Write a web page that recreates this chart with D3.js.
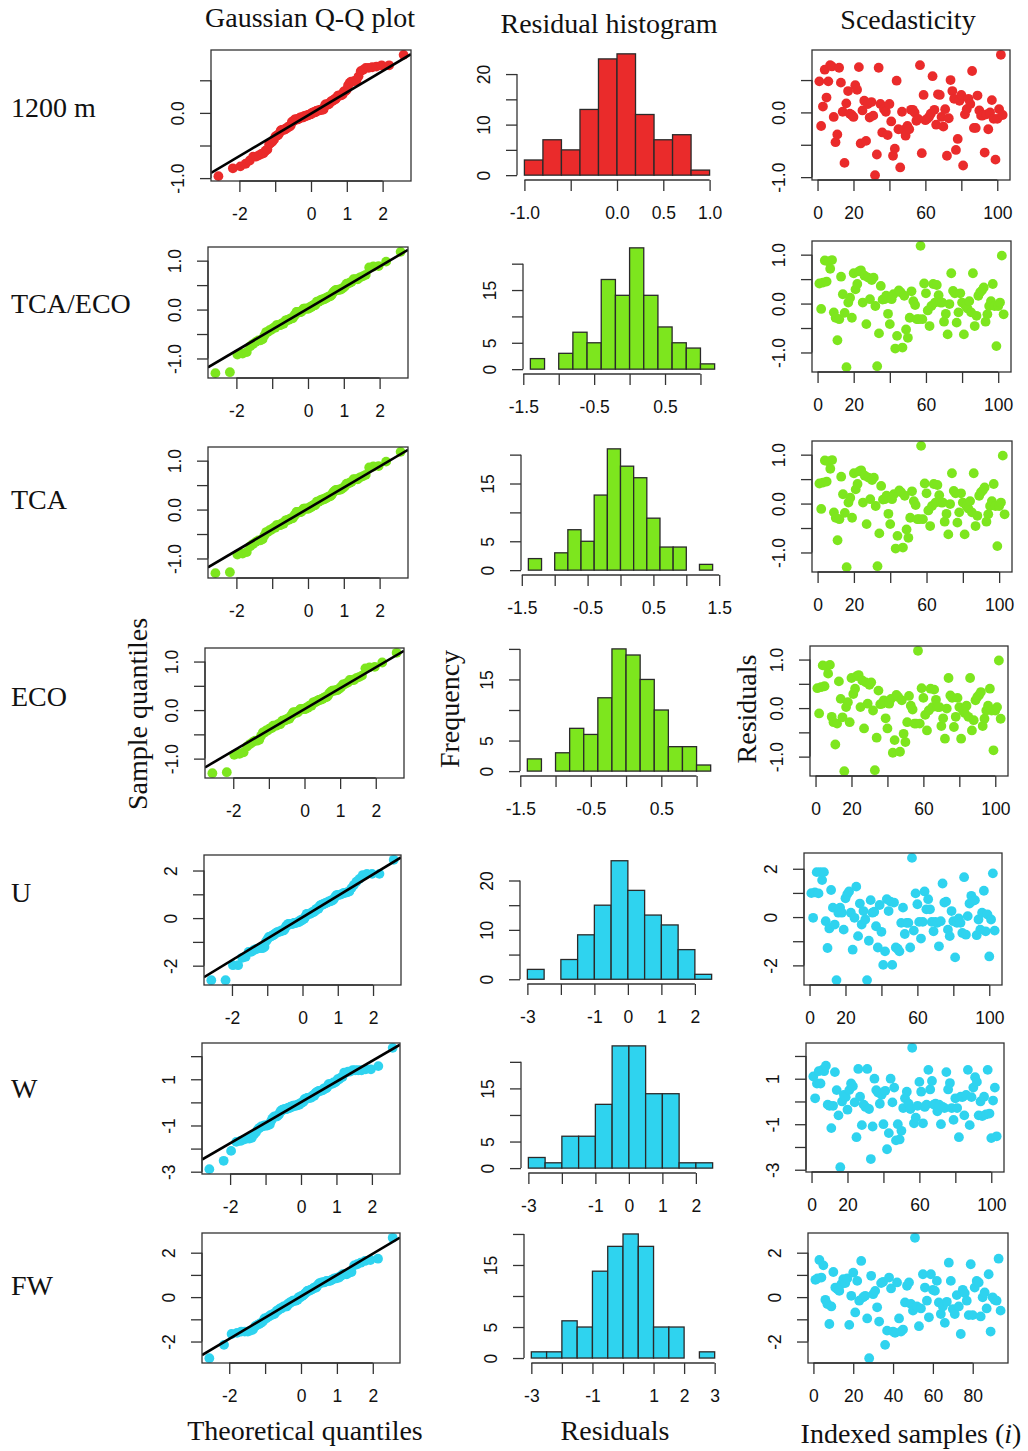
<!DOCTYPE html>
<html>
<head>
<meta charset="utf-8">
<script src="https://cdn.jsdelivr.net/npm/d3@7"></script>
<style>
  body { margin: 0; background: #fff; }
  svg { display: block; }
  .tick text { font-family: "Liberation Sans", Arial, sans-serif; font-size: 17.5px; fill: #111; }
  .serif { font-family: "Liberation Serif", "Times New Roman", serif; font-size: 28px; fill: #111; }
</style>
</head>
<body>
<script>
// ---- data ----
const rowLabels = ["1200 m", "TCA/ECO", "TCA", "ECO", "U", "W", "FW"];

// residuals in sample order (scedasticity panels); Q-Q panels use the same values sorted
const res1200 = [0.48,-0.21,0.09,0.66,0.23,0.48,0.73,0.71,-0.07,-0.46,-0.34,0.69,0.46,0.01,-0.78,0.14,0.33,-0.02,-0.04,-0.07,
  0.42,0.35,0.70,-0.48,0.03,0.18,-0.44,0.13,-0.08,0.16,-0.05,-0.97,-0.65,0.69,0.13,-0.31,0.05,0.01,-0.35,0.13,
  -0.14,-0.67,-0.56,0.49,-0.26,-0.85,0.01,-0.27,-0.36,-0.21,-0.26,0.04,0.04,0.0,-0.13,-0.10,0.73,-0.63,0.27,-0.12,
  -0.10,-0.07,-0.02,0.56,0.04,-0.19,0.28,0.27,-0.07,-0.22,0.05,-0.67,-0.09,0.50,0.33,0.21,-0.58,-0.41,0.18,0.27,
  -0.82,-0.03,0.05,0.21,0.13,0.64,-0.24,-0.24,0.26,0.03,-0.05,-0.05,-0.62,-0.03,-0.26,0.0,0.19,-0.10,-0.73,-0.10,
  0.05,0.89,-0.04];
const resEco = [0.41,-0.11,0.43,0.88,0.45,0.86,0.71,0.89,-0.18,-0.29,-0.75,-0.32,0.55,0.19,-0.19,-1.30,0.02,0.12,-0.29,0.62,
  0.29,0.40,0.66,0.68,0.02,0.57,-0.42,0.53,0.09,0.48,0.53,-0.05,-1.28,-0.61,0.36,0.08,0.09,0.16,-0.21,-0.42,
  0.09,0.19,-0.92,-0.66,0.27,0.23,-0.90,0.16,-0.53,-0.70,-0.29,0.25,0.05,-0.03,-0.32,-0.32,1.18,-0.32,0.41,0.21,
  -0.14,-0.46,-0.05,0.40,0.02,0.38,0.17,0.02,0.02,-0.37,-0.21,-0.63,-0.01,0.62,0.26,0.21,-0.39,-0.18,0.21,0.02,
  -0.63,-0.05,-0.10,0.05,-0.18,0.62,-0.46,-0.25,0.16,0.23,0.27,0.33,-0.37,-0.22,-0.05,0.05,0.40,-0.05,-0.87,-0.05,
  0.02,0.98,-0.22];
const resU = [0.99,-0.03,1.02,1.86,0.98,1.86,1.53,1.86,-0.17,-1.28,-0.47,1.12,0.39,-0.31,-2.61,0.18,0.39,0.18,-0.52,0.78,
  0.95,1.06,0.18,-1.35,-0.03,1.26,-0.79,0.56,-0.31,0.25,-0.10,-2.61,-0.98,0.70,0.18,0.22,-0.38,-1.26,0.50,-0.61,
  -1.98,-1.42,0.74,0.25,0.64,-1.98,0.60,-1.26,-1.31,-1.42,-0.24,0.39,-0.70,-0.24,-0.24,-1.26,2.45,-0.56,0.98,0.53,
  -0.20,-0.89,-0.20,1.06,0.32,0.74,0.32,-0.20,-0.59,-0.20,-0.24,-1.21,-0.17,1.39,0.60,0.64,-0.52,-0.79,0.25,-0.17,
  -1.67,-0.24,-0.06,-0.24,-0.66,1.65,-0.73,0.04,0.56,0.88,0.67,0.70,-0.75,-0.10,-0.52,0.18,1.09,-0.59,0.11,-1.63,
  -0.10,1.81,-0.56];
const resW = [1.10,0.14,0.79,1.33,0.79,1.39,1.33,1.57,-0.14,-0.19,-1.17,-0.19,1.29,0.50,-0.61,-2.89,0.00,0.29,0.19,-0.36,
  0.50,0.79,0.67,-0.04,-1.57,1.43,0.21,-1.04,-0.14,-0.24,1.43,-0.33,-2.53,-1.10,1.00,0.50,0.39,-0.10,0.29,-1.00,
  0.47,-2.10,-1.39,1.00,-0.04,0.61,-1.71,-1.00,-1.67,-1.29,-0.29,0.14,0.43,-0.10,-0.33,2.36,-0.96,-0.71,-0.19,0.86,
  0.43,-0.96,-0.24,-0.14,1.39,0.53,0.90,-0.14,-0.10,-0.43,-0.14,-1.00,-0.24,-0.29,1.29,0.53,0.81,-0.29,-0.81,0.14,
  -0.29,-1.57,0.21,0.19,-0.61,0.29,1.39,-1.04,0.19,0.61,1.07,0.86,-0.61,0.00,-0.64,0.21,-0.57,1.39,-0.53,-1.61,
  0.04,0.61,-1.53];
const resFW = [0.78,0.84,1.67,0.88,1.43,-0.12,-0.31,-1.21,-0.42,1.13,0.43,0.36,0.28,0.58,0.81,0.63,0.84,-1.25,0.06,1.10,
  -0.69,0.73,-0.16,1.63,-0.01,0.06,-0.96,-2.75,0.96,0.13,0.28,-0.46,-1.10,0.63,0.69,-2.15,-1.51,0.88,0.39,-1.55,
  -1.61,0.66,-0.96,-1.55,-1.46,-0.24,0.51,0.66,-0.31,-0.61,2.67,-0.42,-1.31,-0.51,1.03,0.43,-0.16,-0.91,1.03,0.33,
  0.28,0.73,-0.24,-0.76,-0.42,-1.16,-0.21,1.55,0.73,-0.54,-0.76,0.09,-0.42,-1.66,0.33,0.18,-0.16,-0.81,
  1.48,-0.81,0.43,0.73,0.66,-0.87,-0.01,0.21,-0.51,1.03,-1.55,-0.01,-0.12,-0.16,1.73,-0.61];
const rowResiduals = [res1200, resEco, resEco, resEco, resU, resW, resFW];

// histogram counts, first break and bin width
const hist1200 = [3,7,5,13,23,24,12,7,8,1];
const histTcaEco = [2,0,3,7,5,17,14,23,14,8,5,4,1];
const histTca = [2,0,3,7,5,13,21,18,16,9,4,4,0,1];
const histEco = [2,0,3,7,6,12,20,19,15,10,4,4,1];
const histU = [2,0,4,9,15,24,18,13,11,6,1];
const histW = [2,1,6,6,12,23,23,14,14,1,1];
const histFW = [1,1,6,5,14,18,20,18,5,5,0,1];
const rowHist = [hist1200, histTcaEco, histTca, histEco, histU, histW, histFW];
const histStart = [-1.0, -1.4, -1.4, -1.4, -3, -3, -3];
const histBin = [0.2, 0.2, 0.2, 0.2, 0.5, 0.5, 0.5];

// axis ticks and which of them carry a label
const qqXTicks = [-2, -1, 0, 1, 2];
const qqXLabels = [-2, 0, 1, 2];
const resYTicks = [[-1,-0.5,0,0.5], [-1,-0.5,0,0.5,1], [-1,-0.5,0,0.5,1], [-1,-0.5,0,0.5,1], [-2,-1,0,1,2], [-3,-2,-1,0,1,2], [-2,-1,0,1,2]];
const resYLabels = [[-1,0], [-1,0,1], [-1,0,1], [-1,0,1], [-2,0,2], [-3,-1,1], [-2,0,2]];
const resDecimals = [1, 1, 1, 1, 0, 0, 0];
const histXTicks = [[-1,-0.5,0,0.5,1], [-1.5,-1,-0.5,0,0.5,1], [-1.5,-1,-0.5,0,0.5,1,1.5], [-1.5,-1,-0.5,0,0.5,1],
  [-3,-2,-1,0,1,2], [-3,-2,-1,0,1,2], [-3,-2,-1,0,1,2,3]];
const histXLabels = [[-1,0,0.5,1], [-1.5,-0.5,0.5], [-1.5,-0.5,0.5,1.5], [-1.5,-0.5,0.5], [-3,-1,0,1,2], [-3,-1,0,1,2], [-3,-1,1,2,3]];
const histYTicks = [0, 5, 10, 15, 20];
const histYLabels = [[0,10,20], [0,5,15], [0,5,15], [0,5,15], [0,10,20], [0,5,15], [0,5,15]];
const idxTicks = [[0,20,40,60,80,100], [0,20,40,60,80,100], [0,20,40,60,80,100], [0,20,40,60,80,100], [0,20,40,60,80,100], [0,20,40,60,80,100], [0,20,40,60,80]];
const idxLabels = [[0,20,60,100], [0,20,60,100], [0,20,60,100], [0,20,60,100], [0,20,60,100], [0,20,60,100], [0,20,40,60,80]];

// ---- layout (plot regions: x0, y0, x1, y1) and styles ----
const qqBox = [[211,50,411,181],[208,247,408,378],[208,447,408,578],[205,648,404,778],[204,855,401,985],[202,1043,400,1174],[202,1233,400,1363]];
const histBox = [[517,49,717,180],[523,243,722,374],[521,444,720,575],[520,644,718,776],[520,856,719,984],[521,1041,720,1173],[524,1229,722,1363]];
const scatBox = [[812,50,1010,180],[812,241,1011,372],[812,441,1012,572],[810,646,1008,776],[804,853,1002,985],[806,1043,1004,1172],[808,1233,1008,1363]];
const rowLabelY = [117, 313, 509, 706, 902, 1098, 1295];
const rowColors = ["#EA2B2B", "#7DE61E", "#7DE61E", "#7DE61E", "#2FD3EF", "#2FD3EF", "#2FD3EF"];
const axisCol = "#333";
const ptR = 4.9;

const svg = d3.select("body").append("svg")
    .attr("width", 1028)
    .attr("height", 1451);
svg.append("rect").attr("width", 1028).attr("height", 1451).attr("fill", "#fff");

// inverse normal cdf (Acklam)
function qnorm(p) {
    const a = [-3.969683028665376e+01, 2.209460984245205e+02, -2.759285104469687e+02, 1.383577518672690e+02, -3.066479806614716e+01, 2.506628277459239e+00];
    const b = [-5.447609879822406e+01, 1.615858368580409e+02, -1.556989798598866e+02, 6.680131188771972e+01, -1.328068155288572e+01];
    const c = [-7.784894002430293e-03, -3.223964580411365e-01, -2.400758277161838e+00, -2.549732539343734e+00, 4.374664141464968e+00, 2.938163982698783e+00];
    const d = [7.784695709041462e-03, 3.224671290700398e-01, 2.445134137142996e+00, 3.754408661907416e+00];
    const pl = 0.02425;
    if (p < pl) {
        const q = Math.sqrt(-2 * Math.log(p));
        return (((((c[0]*q+c[1])*q+c[2])*q+c[3])*q+c[4])*q+c[5]) / ((((d[0]*q+d[1])*q+d[2])*q+d[3])*q+1);
    }
    if (p > 1 - pl) {
        const q = Math.sqrt(-2 * Math.log(1 - p));
        return -(((((c[0]*q+c[1])*q+c[2])*q+c[3])*q+c[4])*q+c[5]) / ((((d[0]*q+d[1])*q+d[2])*q+d[3])*q+1);
    }
    const q = p - 0.5, r = q * q;
    return (((((a[0]*r+a[1])*r+a[2])*r+a[3])*r+a[4])*r+a[5])*q / (((((b[0]*r+b[1])*r+b[2])*r+b[3])*r+b[4])*r+1);
}

// R style 4% range extension
const rExt = ([lo, hi]) => [lo - (hi - lo) * 0.04, hi + (hi - lo) * 0.04];

function axisBottom(scale, ticks, labels, dec, y) {
    const ax = d3.axisBottom(scale).tickValues(ticks).tickSize(11).tickSizeOuter(0)
        .tickFormat(v => labels.includes(v) ? v.toFixed(dec) : "");
    const a = svg.append("g").attr("transform", `translate(0,${y})`).call(ax)
        .attr("font-size", null).attr("font-family", null);
    a.select(".domain").remove();
    a.append("line")
        .attr("x1", scale(ticks[0])).attr("x2", scale(ticks[ticks.length - 1]))
        .attr("stroke", axisCol).attr("stroke-width", 1.3);
    a.selectAll(".tick line").attr("stroke", axisCol).attr("stroke-width", 1.3);
    a.selectAll(".tick text").attr("y", 39).attr("dy", null);
}

function axisLeft(scale, ticks, labels, dec, x) {
    const ax = d3.axisLeft(scale).tickValues(ticks).tickSize(11).tickSizeOuter(0)
        .tickFormat(v => labels.includes(v) ? v.toFixed(dec) : "");
    const a = svg.append("g").attr("transform", `translate(${x},0)`).call(ax)
        .attr("font-size", null).attr("font-family", null);
    a.select(".domain").remove();
    a.append("line")
        .attr("y1", scale(ticks[0])).attr("y2", scale(ticks[ticks.length - 1]))
        .attr("stroke", axisCol).attr("stroke-width", 1.3);
    a.selectAll(".tick line").attr("stroke", axisCol).attr("stroke-width", 1.3);
    a.selectAll(".tick text")
        .attr("x", null).attr("dy", null)
        .attr("text-anchor", "middle")
        .attr("transform", "translate(-27,0) rotate(-90)");
}

function frame(box) {
    const [x0, y0, x1, y1] = box;
    svg.append("rect")
        .attr("x", x0).attr("y", y0).attr("width", x1 - x0).attr("height", y1 - y0)
        .attr("fill", "none").attr("stroke", axisCol).attr("stroke-width", 1.3);
}

function qqPanel(i) {
    const [x0, y0, x1, y1] = qqBox[i];
    const ys = rowResiduals[i].slice().sort(d3.ascending);
    const n = ys.length;
    const pts = ys.map((v, k) => ({ t: qnorm((k + 0.5) / n), v }));
    const x = d3.scaleLinear().domain(rExt(d3.extent(pts, d => d.t))).range([x0, x1]);
    const y = d3.scaleLinear().domain(rExt(d3.extent(ys))).range([y1, y0]);

    svg.append("g").selectAll("circle")
        .data(pts).enter().append("circle")
        .attr("cx", d => x(d.t)).attr("cy", d => y(d.v)).attr("r", ptR)
        .attr("fill", rowColors[i]);

    // qqline through the quartiles
    const q1 = d3.quantile(ys, 0.25), q3 = d3.quantile(ys, 0.75);
    const t1 = qnorm(0.25), t3 = qnorm(0.75);
    const slope = (q3 - q1) / (t3 - t1), icpt = q1 - slope * t1;
    const clipId = "qqclip" + i;
    svg.append("clipPath").attr("id", clipId).append("rect")
        .attr("x", x0).attr("y", y0).attr("width", x1 - x0).attr("height", y1 - y0);
    const [dx0, dx1] = x.domain();
    svg.append("line")
        .attr("clip-path", `url(#${clipId})`)
        .attr("x1", x(dx0)).attr("y1", y(icpt + slope * dx0))
        .attr("x2", x(dx1)).attr("y2", y(icpt + slope * dx1))
        .attr("stroke", "#000").attr("stroke-width", 2.6);

    frame(qqBox[i]);
    axisBottom(x, qqXTicks, qqXLabels, 0, y1);
    axisLeft(y, resYTicks[i], resYLabels[i], resDecimals[i], x0);
}

function histPanel(i) {
    const [x0, y0, x1, y1] = histBox[i];
    const counts = rowHist[i], start = histStart[i], w = histBin[i];
    const bins = counts.map((c, k) => ({ lo: start + k * w, hi: start + (k + 1) * w, c }));
    const x = d3.scaleLinear().domain(rExt([start, start + counts.length * w])).range([x0, x1]);
    const y = d3.scaleLinear().domain(rExt([0, d3.max(counts)])).range([y1, y0]);

    svg.append("g").selectAll("rect")
        .data(bins.filter(d => d.c > 0)).enter().append("rect")
        .attr("x", d => x(d.lo)).attr("width", d => x(d.hi) - x(d.lo))
        .attr("y", d => y(d.c)).attr("height", d => y(0) - y(d.c))
        .attr("fill", rowColors[i])
        .attr("stroke", "#2a2a2a").attr("stroke-width", 1.3);

    const dec = w < 0.5 ? 1 : 0;
    axisBottom(x, histXTicks[i], histXLabels[i], dec, y1);
    axisLeft(y, histYTicks, histYLabels[i], 0, x0);
}

function scatPanel(i) {
    const [x0, y0, x1, y1] = scatBox[i];
    const vals = rowResiduals[i];
    const x = d3.scaleLinear().domain(rExt([1, vals.length])).range([x0, x1]);
    const y = d3.scaleLinear().domain(rExt(d3.extent(vals))).range([y1, y0]);

    svg.append("g").selectAll("circle")
        .data(vals).enter().append("circle")
        .attr("cx", (d, k) => x(k + 1)).attr("cy", d => y(d)).attr("r", ptR)
        .attr("fill", rowColors[i]);

    frame(scatBox[i]);
    axisBottom(x, idxTicks[i], idxLabels[i], 0, y1);
    axisLeft(y, resYTicks[i], resYLabels[i], resDecimals[i], x0);
}

rowLabels.forEach((lab, i) => {
    svg.append("text").attr("class", "serif")
        .attr("x", 11).attr("y", rowLabelY[i])
        .text(lab);
    qqPanel(i);
    histPanel(i);
    scatPanel(i);
});

// column titles
const titles = [["Gaussian Q-Q plot", 310, 27], ["Residual histogram", 609, 33], ["Scedasticity", 908, 29]];
titles.forEach(([t, x, y]) => {
    svg.append("text").attr("class", "serif")
        .attr("x", x).attr("y", y).attr("text-anchor", "middle").text(t);
});

// axis titles
[["Sample quantiles", 147, 714], ["Frequency", 459, 709], ["Residuals", 756, 709]].forEach(([t, x, y]) => {
    svg.append("text").attr("class", "serif")
        .attr("transform", `translate(${x},${y}) rotate(-90)`)
        .attr("text-anchor", "middle").text(t);
});
svg.append("text").attr("class", "serif")
    .attr("x", 305).attr("y", 1440).attr("text-anchor", "middle").text("Theoretical quantiles");
svg.append("text").attr("class", "serif")
    .attr("x", 615).attr("y", 1440).attr("text-anchor", "middle").text("Residuals");
const idx = svg.append("text").attr("class", "serif")
    .attr("x", 911).attr("y", 1443).attr("text-anchor", "middle");
idx.append("tspan").text("Indexed samples (");
idx.append("tspan").attr("font-style", "italic").text("i");
idx.append("tspan").text(")");
</script>
</body>
</html>
